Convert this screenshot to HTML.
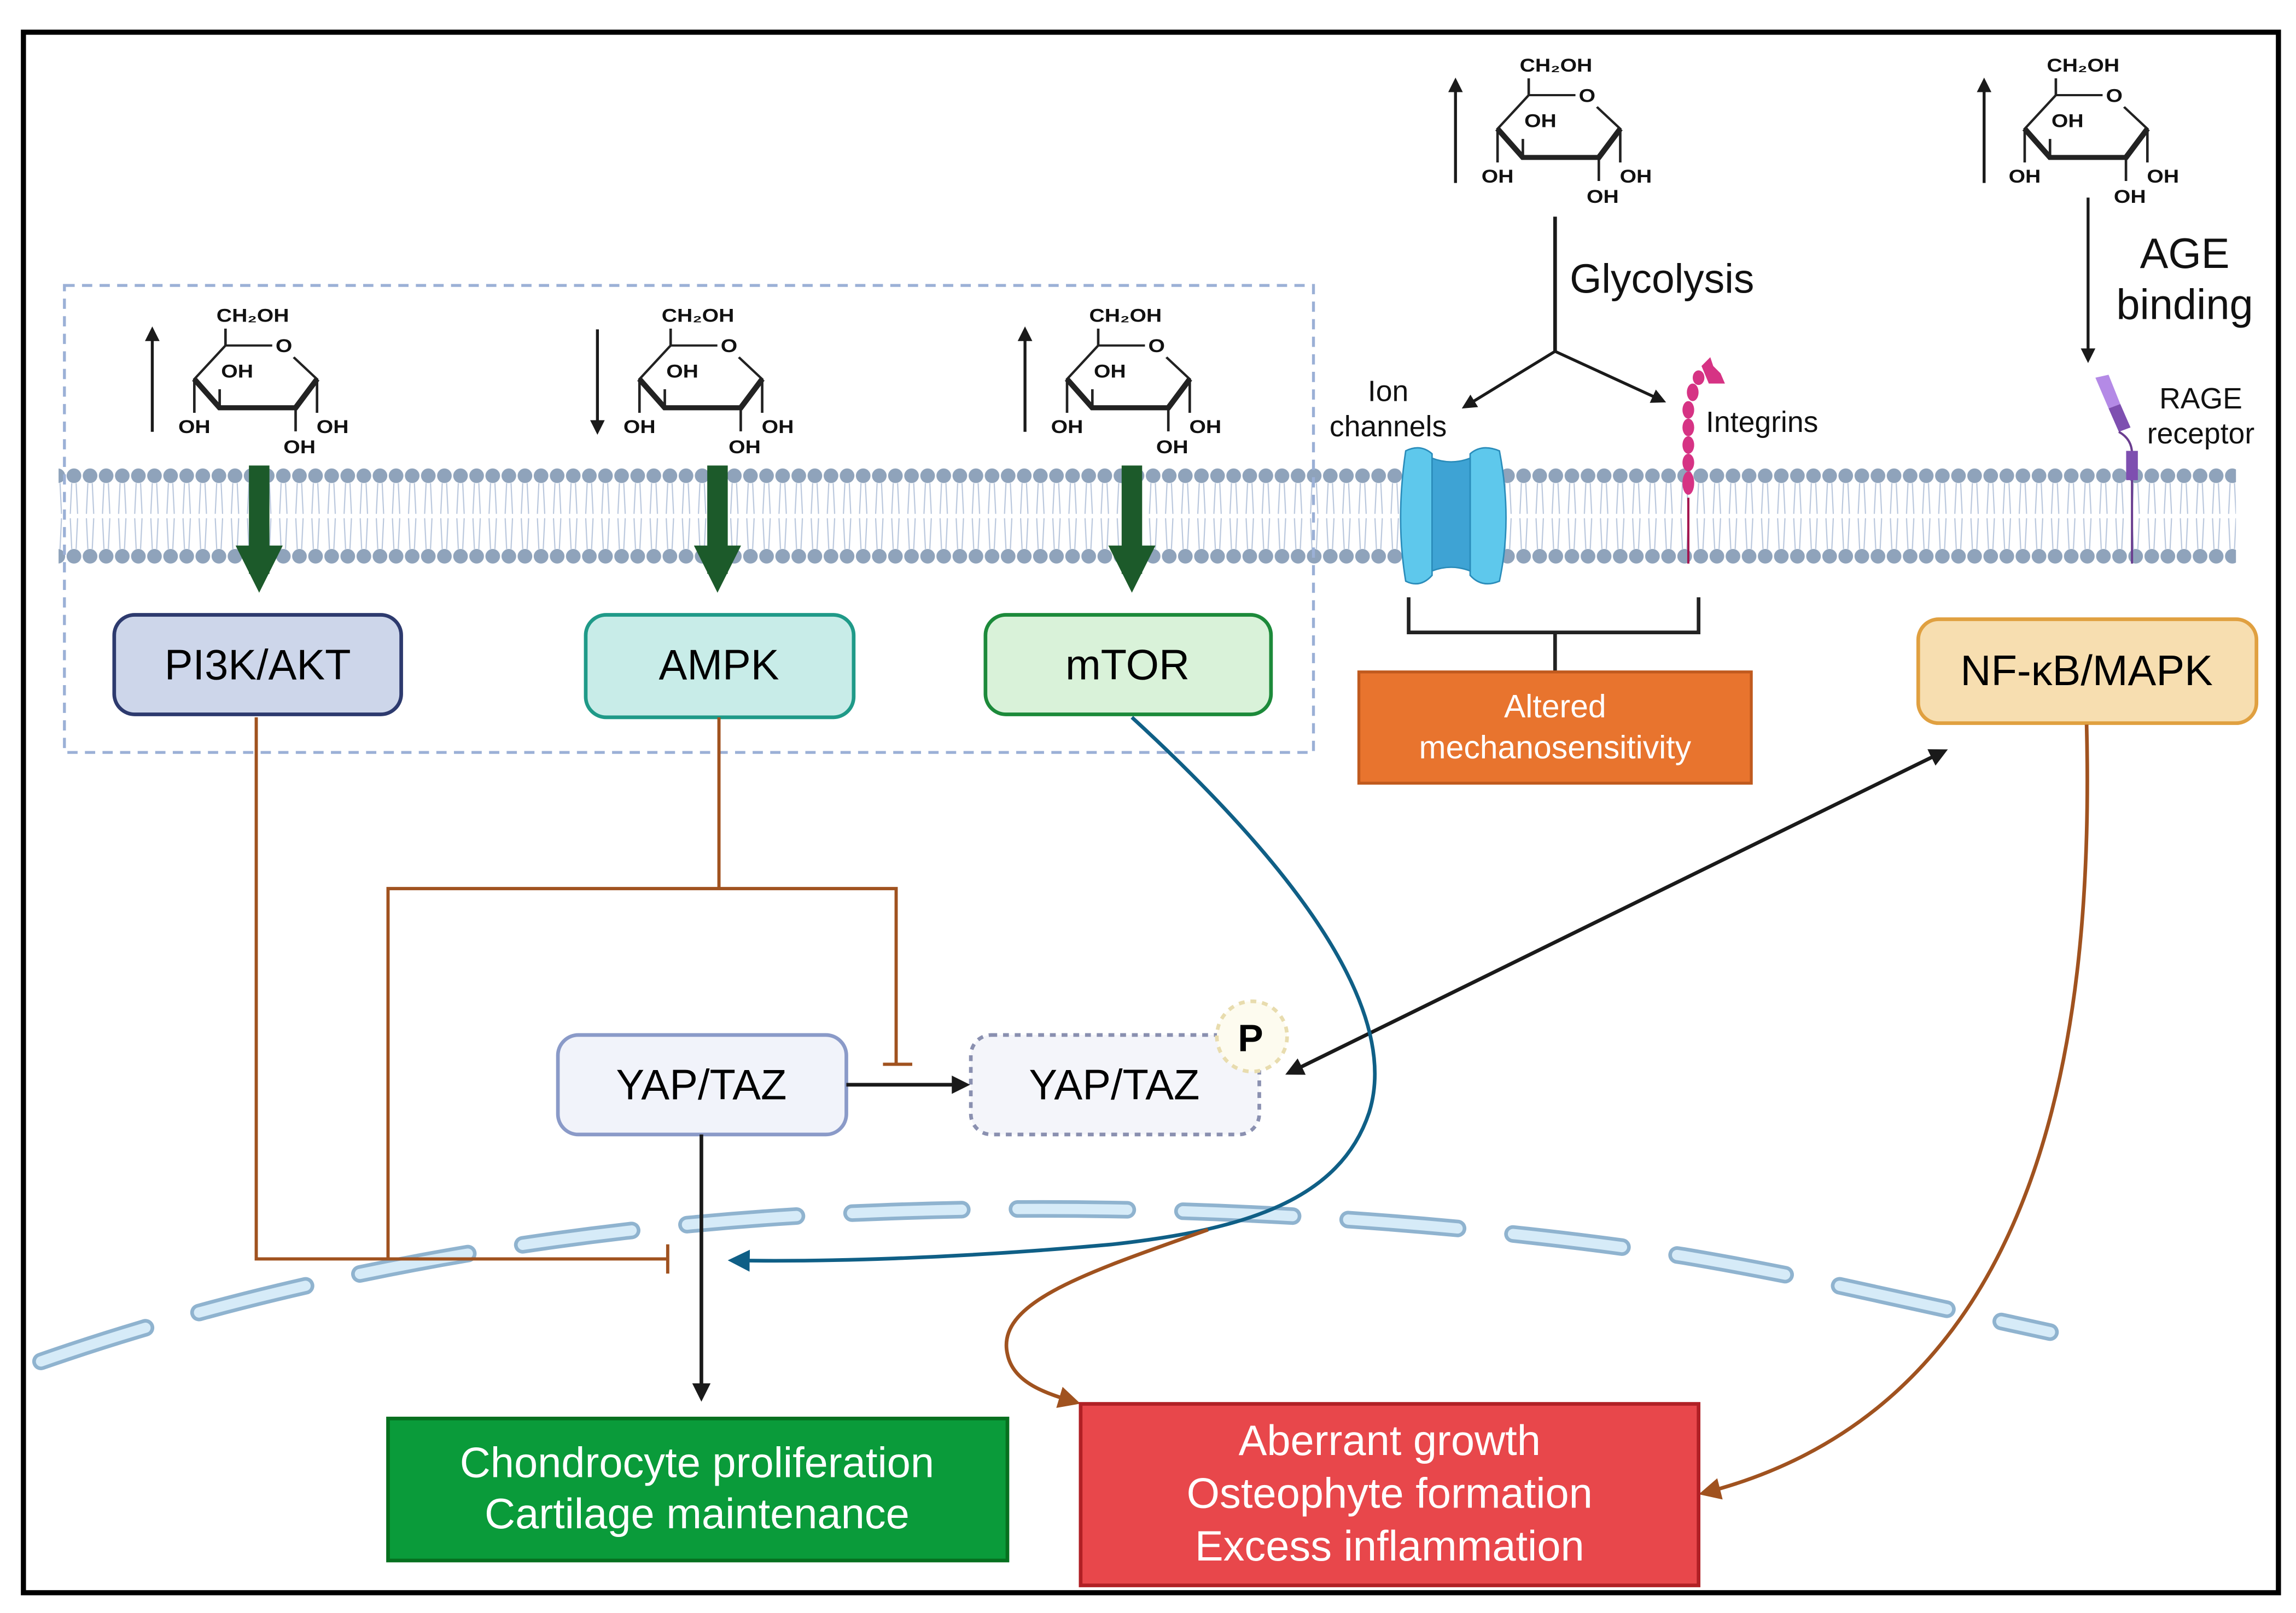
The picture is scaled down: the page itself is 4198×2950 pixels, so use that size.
<!DOCTYPE html>
<html><head><meta charset="utf-8"><style>
html,body{margin:0;padding:0;background:#fff;}
svg{display:block;}
text{font-family:"Liberation Sans",sans-serif;}
.s text{font-family:"Liberation Sans Narrow","Liberation Sans",sans-serif;font-weight:bold;font-size:11px;fill:#111;text-anchor:middle;}
</style></head><body>
<svg width="4198" height="2950" viewBox="0 0 4198 2950" xmlns="http://www.w3.org/2000/svg">
<defs>
<marker id="ab" viewBox="0 0 10 10" refX="8" refY="5" markerWidth="5" markerHeight="5" orient="auto-start-reverse"><path d="M0,0 L10,5 L0,10 z" fill="#1a1a1a"/></marker>
<marker id="abl" viewBox="0 0 10 10" refX="8" refY="5" markerWidth="6" markerHeight="6" orient="auto"><path d="M0,0 L10,5 L0,10 z" fill="#0f5f86"/></marker>
<marker id="abr" viewBox="0 0 10 10" refX="8" refY="5" markerWidth="6" markerHeight="6" orient="auto"><path d="M0,0 L10,5 L0,10 z" fill="#a0521f"/></marker>
<marker id="ag" viewBox="0 0 10 10" refX="6" refY="5" markerWidth="2.6" markerHeight="2.3" orient="auto"><path d="M0,0 L10,5 L0,10 z" fill="#1c5a2a"/></marker>
<pattern id="lip" x="45" y="0" width="11" height="1102" patternUnits="userSpaceOnUse">
<circle cx="5.5" cy="325" r="5" fill="#8fa3bb"/>
<circle cx="5.5" cy="380" r="5" fill="#8fa3bb"/>
<path d="M4,330 L3,351 M7,330 L8,351 M4,375 L3,354 M7,375 L8,354" stroke="#b8c6dc" stroke-width="0.8" fill="none"/>
</pattern>
</defs>
<g transform="scale(2.6773)">
<rect x="16" y="22" width="1540" height="1066" fill="#fff" stroke="#000" stroke-width="3.5"/>
<rect x="40" y="318" width="1487" height="70" fill="url(#lip)"/>
<rect x="44" y="195" width="853" height="319" fill="none" stroke="#9bb0d6" stroke-width="2" stroke-dasharray="7,5"/>

<path d="M28,930 C200,870 400,835 600,828 C800,820 1000,835 1150,858 C1250,875 1330,895 1400,910" fill="none" stroke="#8fb3cf" stroke-width="12" stroke-dasharray="75,38" stroke-linecap="round"/>
<path d="M28,930 C200,870 400,835 600,828 C800,820 1000,835 1150,858 C1250,875 1330,895 1400,910" fill="none" stroke="#d6ebf8" stroke-width="7" stroke-dasharray="75,38" stroke-linecap="round"/>

<g class="s" transform="translate(154,236) scale(1.33,1.15)"><path d="M0,0 H24 M35,7 L47,20 L36,37 L-3,37 L-16,20 L0,0 M0,0 V-10 M-16,20 V40 M-3,37 V26 M36,37 V51 M47,20 V40" fill="none" stroke="#222" stroke-width="1.3"/><path d="M-16,20 L-3,37 L36,37 L47,20" fill="none" stroke="#222" stroke-width="3"/><text x="14" y="-14">CH₂OH</text><text x="30" y="4">O</text><text x="6" y="19">OH</text><text x="-16" y="52">OH</text><text x="38" y="64">OH</text><text x="55" y="52">OH</text></g>
<g class="s" transform="translate(458,236) scale(1.33,1.15)"><path d="M0,0 H24 M35,7 L47,20 L36,37 L-3,37 L-16,20 L0,0 M0,0 V-10 M-16,20 V40 M-3,37 V26 M36,37 V51 M47,20 V40" fill="none" stroke="#222" stroke-width="1.3"/><path d="M-16,20 L-3,37 L36,37 L47,20" fill="none" stroke="#222" stroke-width="3"/><text x="14" y="-14">CH₂OH</text><text x="30" y="4">O</text><text x="6" y="19">OH</text><text x="-16" y="52">OH</text><text x="38" y="64">OH</text><text x="55" y="52">OH</text></g>
<g class="s" transform="translate(750,236) scale(1.33,1.15)"><path d="M0,0 H24 M35,7 L47,20 L36,37 L-3,37 L-16,20 L0,0 M0,0 V-10 M-16,20 V40 M-3,37 V26 M36,37 V51 M47,20 V40" fill="none" stroke="#222" stroke-width="1.3"/><path d="M-16,20 L-3,37 L36,37 L47,20" fill="none" stroke="#222" stroke-width="3"/><text x="14" y="-14">CH₂OH</text><text x="30" y="4">O</text><text x="6" y="19">OH</text><text x="-16" y="52">OH</text><text x="38" y="64">OH</text><text x="55" y="52">OH</text></g>
<g class="s" transform="translate(1044,65) scale(1.33,1.15)"><path d="M0,0 H24 M35,7 L47,20 L36,37 L-3,37 L-16,20 L0,0 M0,0 V-10 M-16,20 V40 M-3,37 V26 M36,37 V51 M47,20 V40" fill="none" stroke="#222" stroke-width="1.3"/><path d="M-16,20 L-3,37 L36,37 L47,20" fill="none" stroke="#222" stroke-width="3"/><text x="14" y="-14">CH₂OH</text><text x="30" y="4">O</text><text x="6" y="19">OH</text><text x="-16" y="52">OH</text><text x="38" y="64">OH</text><text x="55" y="52">OH</text></g>
<g class="s" transform="translate(1404,65) scale(1.33,1.15)"><path d="M0,0 H24 M35,7 L47,20 L36,37 L-3,37 L-16,20 L0,0 M0,0 V-10 M-16,20 V40 M-3,37 V26 M36,37 V51 M47,20 V40" fill="none" stroke="#222" stroke-width="1.3"/><path d="M-16,20 L-3,37 L36,37 L47,20" fill="none" stroke="#222" stroke-width="3"/><text x="14" y="-14">CH₂OH</text><text x="30" y="4">O</text><text x="6" y="19">OH</text><text x="-16" y="52">OH</text><text x="38" y="64">OH</text><text x="55" y="52">OH</text></g>

<g stroke="#1a1a1a" stroke-width="2" fill="none" marker-end="url(#ab)">
<path d="M104,295 V225"/><path d="M408,225 V295"/><path d="M700,295 V225"/><path d="M994,125 V55"/><path d="M1355,125 V55"/>
<path d="M1426,135 V246"/>
<path d="M1062,240 L1000,278"/><path d="M1062,240 L1136,274"/>
</g>
<path d="M1062,148 V240" stroke="#1a1a1a" stroke-width="2.5"/>
<text x="1072" y="200" font-size="28" fill="#111">Glycolysis</text>
<text x="948" y="274" font-size="20" text-anchor="middle" fill="#111">Ion</text>
<text x="948" y="298" font-size="20" text-anchor="middle" fill="#111">channels</text>
<text x="1165" y="295" font-size="20" fill="#111">Integrins</text>
<text x="1492" y="183" font-size="29" text-anchor="middle" fill="#111">AGE</text>
<text x="1492" y="218" font-size="29" text-anchor="middle" fill="#111">binding</text>
<text x="1503" y="279" font-size="20" text-anchor="middle" fill="#111">RAGE</text>
<text x="1503" y="303" font-size="20" text-anchor="middle" fill="#111">receptor</text>

<path d="M960,308 Q970,303 978,310 L978,393 Q970,402 960,397 Q953,355 960,308 Z" fill="#5ec8ec" stroke="#2a8cba" stroke-width="1"/>
<path d="M1004,310 Q1012,303 1024,308 Q1033,355 1024,397 Q1012,402 1004,393 Z" fill="#5ec8ec" stroke="#2a8cba" stroke-width="1"/>
<path d="M978,313 Q991,318 1004,313 L1004,390 Q991,385 978,390 Z" fill="#3ea3d4" stroke="#2a8cba" stroke-width="1"/>
<path d="M1153,340 V385" stroke="#a3144f" stroke-width="1.5"/>
<g fill="#d63384"><ellipse cx="1153" cy="330" rx="4" ry="8"/><ellipse cx="1153" cy="316" rx="4" ry="6"/><ellipse cx="1153" cy="304" rx="4" ry="6"/><ellipse cx="1153" cy="292" rx="4" ry="6"/><ellipse cx="1153" cy="280" rx="4" ry="6"/><ellipse cx="1156" cy="268" rx="4" ry="6"/><ellipse cx="1160" cy="258" rx="4" ry="5"/><path d="M1162,250 L1167,262 L1178,262 L1175,255 L1170,250 L1168,244 Z"/></g>
<path d="M1456,318 V385" stroke="#6a3d8f" stroke-width="1.5"/>
<path d="M1431,258 L1440,256 L1448,276 L1440,279 Z" fill="#b48ae6"/>
<path d="M1440,279 L1448,276 L1455,292 L1447,295 Z" fill="#7e4fb0"/>
<path d="M1447,295 Q1456,300 1456,310" stroke="#6a3d8f" stroke-width="1.5" fill="none"/>
<rect x="1452" y="308" width="8" height="20" fill="#7e4fb0"/>
<path d="M962,408 V432 H1160 V408 M1062,432 V459" fill="none" stroke="#222" stroke-width="2.5"/>

<g stroke="#1c5a2a" stroke-width="14" marker-end="url(#ag)"><path d="M177,318 V392"/><path d="M490,318 V392"/><path d="M773,318 V392"/></g>

<rect x="78" y="420" width="196" height="68" rx="14" fill="#cdd6ea" stroke="#2d3a6e" stroke-width="2.5"/>
<text x="176" y="464" font-size="29" text-anchor="middle">PI3K/AKT</text>
<rect x="400" y="420" width="183" height="70" rx="14" fill="#c8ece8" stroke="#1f9a88" stroke-width="2.5"/>
<text x="491" y="464" font-size="29" text-anchor="middle">AMPK</text>
<rect x="673" y="420" width="195" height="68" rx="14" fill="#d9f2d9" stroke="#1c8a3a" stroke-width="2.5"/>
<text x="770" y="464" font-size="29" text-anchor="middle">mTOR</text>
<rect x="1310" y="423" width="231" height="71" rx="14" fill="#f7deb0" stroke="#e0a040" stroke-width="2.5"/>
<text x="1425" y="468" font-size="29" text-anchor="middle">NF-κB/MAPK</text>
<rect x="928" y="459" width="268" height="76" fill="#e8742e" stroke="#c05a1e" stroke-width="2"/>
<text x="1062" y="490" font-size="22" text-anchor="middle" fill="#fff">Altered</text>
<text x="1062" y="518" font-size="22" text-anchor="middle" fill="#fff">mechanosensitivity</text>

<g fill="none" stroke="#a0521f" stroke-width="2.2">
<path d="M175,490 V860 H456 M456,850 V870"/>
<path d="M491,490 V607 M265,860 V607 H612 V727 M603,727 H623"/>
</g>

<rect x="381" y="707" width="197" height="68" rx="14" fill="#f1f3fa" stroke="#8a9ac8" stroke-width="2.5"/>
<text x="479" y="751" font-size="29" text-anchor="middle">YAP/TAZ</text>
<rect x="663" y="707" width="197" height="68" rx="14" fill="#f4f5fa" stroke="#8a90b0" stroke-width="2.5" stroke-dasharray="4,4"/>
<text x="761" y="751" font-size="29" text-anchor="middle">YAP/TAZ</text>
<circle cx="855" cy="708" r="24" fill="#fdfbef" stroke="#e8dcae" stroke-width="2.5" stroke-dasharray="4,4"/>
<text x="854" y="718" font-size="26" font-weight="bold" text-anchor="middle">P</text>

<g stroke="#1a1a1a" stroke-width="2.5" fill="none">
<path d="M578,741 H660" marker-end="url(#ab)"/>
<path d="M479,775 V955" marker-end="url(#ab)"/>
<path d="M880,733 L1328,513" marker-end="url(#ab)" marker-start="url(#ab)"/>
</g>

<path d="M773,490 C860,570 960,680 935,760 C915,820 850,840 760,850 C650,860 560,862 500,861" fill="none" stroke="#0f5f86" stroke-width="2.5" marker-end="url(#abl)"/>
<path d="M825,840 C740,870 680,890 688,925 C692,945 715,952 735,958" fill="none" stroke="#a0521f" stroke-width="2.5" marker-end="url(#abr)"/>
<path d="M1425,495 C1430,700 1400,960 1163,1020" fill="none" stroke="#a0521f" stroke-width="2.5" marker-end="url(#abr)"/>

<rect x="265" y="969" width="423" height="97" fill="#0a9b3a" stroke="#06701f" stroke-width="2.5"/>
<text x="476" y="1009" font-size="29" text-anchor="middle" fill="#fff">Chondrocyte proliferation</text>
<text x="476" y="1044" font-size="29" text-anchor="middle" fill="#fff">Cartilage maintenance</text>
<rect x="738" y="959" width="422" height="124" fill="#e8474b" stroke="#b02025" stroke-width="2.5"/>
<text x="949" y="994" font-size="29" text-anchor="middle" fill="#fff">Aberrant growth</text>
<text x="949" y="1030" font-size="29" text-anchor="middle" fill="#fff">Osteophyte formation</text>
<text x="949" y="1066" font-size="29" text-anchor="middle" fill="#fff">Excess inflammation</text>
</g>
</svg>
</body></html>
